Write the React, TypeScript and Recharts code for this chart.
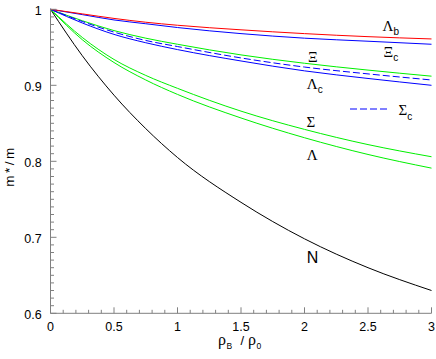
import { Line, LineChart, XAxis, YAxis } from "recharts";

// density rho_B / rho_0
const rho = [0, 0.25, 0.5, 0.75, 1, 1.5, 2, 2.5, 3];

// m*/m for each baryon
const lambdaB = [1, 0.994, 0.988, 0.983, 0.979, 0.973, 0.968, 0.964, 0.961];
const xiC = [1, 0.993, 0.986, 0.981, 0.976, 0.968, 0.962, 0.958, 0.954];
const xi = [1, 0.985, 0.972, 0.962, 0.954, 0.94, 0.929, 0.92, 0.912];
const sigmaC = [1, 0.984, 0.97, 0.959, 0.951, 0.936, 0.924, 0.915, 0.907];
const lambdaC = [1, 0.982, 0.967, 0.956, 0.947, 0.932, 0.919, 0.909, 0.9];
const sigma = [1, 0.963, 0.934, 0.913, 0.896, 0.866, 0.842, 0.822, 0.806];
const lambda = [1, 0.96, 0.93, 0.907, 0.888, 0.857, 0.831, 0.809, 0.791];
const nucleon = [1, 0.939, 0.887, 0.843, 0.805, 0.746, 0.698, 0.66, 0.63];

const xMajor = [0, 0.5, 1, 1.5, 2, 2.5, 3];
const yMajor = [0.6, 0.7, 0.8, 0.9, 1];

const xTicks = Array.from({ length: 31 }, (_, i) => i / 10);
const yTicks = Array.from({ length: 41 }, (_, i) => (60 + i) / 100);

const data = rho.map((x, i) => ({
  x,
  lambdaB: lambdaB[i],
  xiC: xiC[i],
  xi: xi[i],
  sigmaC: sigmaC[i],
  lambdaC: lambdaC[i],
  sigma: sigma[i],
  lambda: lambda[i],
  nucleon: nucleon[i],
}));

const AXIS = "#808080";
const GREEN = "#00f000";
const SANS = "'Liberation Sans', Arial, sans-serif";
const SERIF = "'Liberation Serif', 'Times New Roman', serif";

const isMajor = (v: number, majors: number[]) => majors.some((m) => Math.abs(m - v) < 1e-6);

function BottomTick({ x, y, payload }: any) {
  const major = isMajor(payload.value, xMajor);
  return (
    <g>
      <line x1={x} y1={y} x2={x} y2={y - (major ? 6 : 3.5)} stroke={AXIS} />
      {major && (
        <text x={x} y={y + 17.4} textAnchor="middle" fontSize={12.5} fontFamily={SANS} fill="#000">
          {String(payload.value)}
        </text>
      )}
    </g>
  );
}

function TopTick({ x, y, payload }: any) {
  const major = isMajor(payload.value, xMajor);
  return <line x1={x} y1={y} x2={x} y2={y + (major ? 6 : 3.5)} stroke={AXIS} />;
}

function LeftTick({ x, y, payload }: any) {
  const major = isMajor(payload.value, yMajor);
  return (
    <g>
      <line x1={x} y1={y} x2={x + (major ? 6 : 3.5)} y2={y} stroke={AXIS} />
      {major && (
        <text x={x - 8.8} y={y + 5.5} textAnchor="end" fontSize={12.5} fontFamily={SANS} fill="#000">
          {String(payload.value)}
        </text>
      )}
    </g>
  );
}

function RightTick({ x, y, payload }: any) {
  const major = isMajor(payload.value, yMajor);
  return <line x1={x} y1={y} x2={x - (major ? 6 : 3.5)} y2={y} stroke={AXIS} />;
}

function Label({ x, y, main, sub, sans }: { x: number; y: number; main: string; sub?: string; sans?: boolean }) {
  return (
    <text x={x} y={y} fill="#000">
      <tspan fontFamily={sans ? SANS : SERIF} fontSize={sans ? 16 : 15}>
        {main}
      </tspan>
      {sub && (
        <tspan fontFamily={SANS} fontSize={10} dy={4.3}>
          {sub}
        </tspan>
      )}
    </text>
  );
}

export default function App() {
  return (
    <div style={{ position: "absolute", left: 0, top: 0, width: 436, height: 359, background: "#fff" }}>
      <LineChart width={436} height={359} data={data} margin={{ top: 9.3, right: 4.5, left: 0, bottom: 15.7 }}>
        <XAxis
          dataKey="x"
          type="number"
          domain={[0, 3]}
          ticks={xTicks}
          interval={0}
          height={30}
          tickSize={0}
          tickMargin={0}
          tickLine={false}
          axisLine={{ stroke: AXIS }}
          tick={BottomTick}
        />
        <XAxis
          xAxisId="top"
          orientation="top"
          type="number"
          domain={[0, 3]}
          ticks={xTicks}
          interval={0}
          height={0}
          tickSize={0}
          tickMargin={0}
          tickLine={false}
          axisLine={{ stroke: AXIS }}
          tick={TopTick}
        />
        <YAxis
          type="number"
          domain={[0.6, 1]}
          ticks={yTicks}
          interval={0}
          width={50.5}
          tickSize={0}
          tickMargin={0}
          tickLine={false}
          axisLine={{ stroke: AXIS }}
          tick={LeftTick}
        />
        <YAxis
          yAxisId="right"
          orientation="right"
          type="number"
          domain={[0.6, 1]}
          ticks={yTicks}
          interval={0}
          width={0}
          tickSize={0}
          tickMargin={0}
          tickLine={false}
          axisLine={{ stroke: AXIS }}
          tick={RightTick}
        />
        <Line type="monotone" dataKey="nucleon" stroke="#000000" strokeWidth={1} dot={false} isAnimationActive={false} />
        <Line type="monotone" dataKey="lambda" stroke={GREEN} strokeWidth={1} dot={false} isAnimationActive={false} />
        <Line type="monotone" dataKey="sigma" stroke={GREEN} strokeWidth={1} dot={false} isAnimationActive={false} />
        <Line type="monotone" dataKey="xi" stroke={GREEN} strokeWidth={1} dot={false} isAnimationActive={false} />
        <Line type="monotone" dataKey="lambdaC" stroke="#0000ff" strokeWidth={1} dot={false} isAnimationActive={false} />
        <Line
          type="monotone"
          dataKey="sigmaC"
          stroke="#0000ff"
          strokeWidth={1}
          strokeDasharray="7 3"
          dot={false}
          isAnimationActive={false}
        />
        <Line type="monotone" dataKey="xiC" stroke="#0000ff" strokeWidth={1} dot={false} isAnimationActive={false} />
        <Line type="monotone" dataKey="lambdaB" stroke="#ff0000" strokeWidth={1} dot={false} isAnimationActive={false} />
      </LineChart>

      <svg width={436} height={359} style={{ position: "absolute", left: 0, top: 0, pointerEvents: "none" }}>
        <Label x={382.5} y={30.5} main="Λ" sub="b" />
        <Label x={383.5} y={57} main="Ξ" sub="c" />
        <Label x={308} y={61.7} main="Ξ" />
        <Label x={306.8} y={89} main="Λ" sub="c" />
        <line x1={350} y1={109} x2={389.5} y2={109} stroke="#0000ff" strokeDasharray="7 3" />
        <Label x={398.5} y={115.3} main="Σ" sub="c" />
        <Label x={306.5} y={126.7} main="Σ" />
        <Label x={306.8} y={160} main="Λ" />
        <Label x={306.7} y={263.3} main="N" sans />

        <text x={14.3} y={186.7} transform="rotate(-90 14.3 186.7)" fontFamily={SANS} fontSize={13.5} letterSpacing={2.5} fill="#000">
          m*/m
        </text>

        <text y={344.5} fill="#000">
          <tspan x={218} fontFamily={SERIF} fontSize={16}>ρ</tspan>
          <tspan x={226.5} y={349.3} fontFamily={SANS} fontSize={8.5}>B</tspan>
          <tspan x={240.5} y={344.5} fontFamily={SANS} fontSize={13}>/</tspan>
          <tspan x={248} y={344.5} fontFamily={SERIF} fontSize={16}>ρ</tspan>
          <tspan x={256.5} y={349.3} fontFamily={SANS} fontSize={8.5}>0</tspan>
        </text>
      </svg>
    </div>
  );
}
